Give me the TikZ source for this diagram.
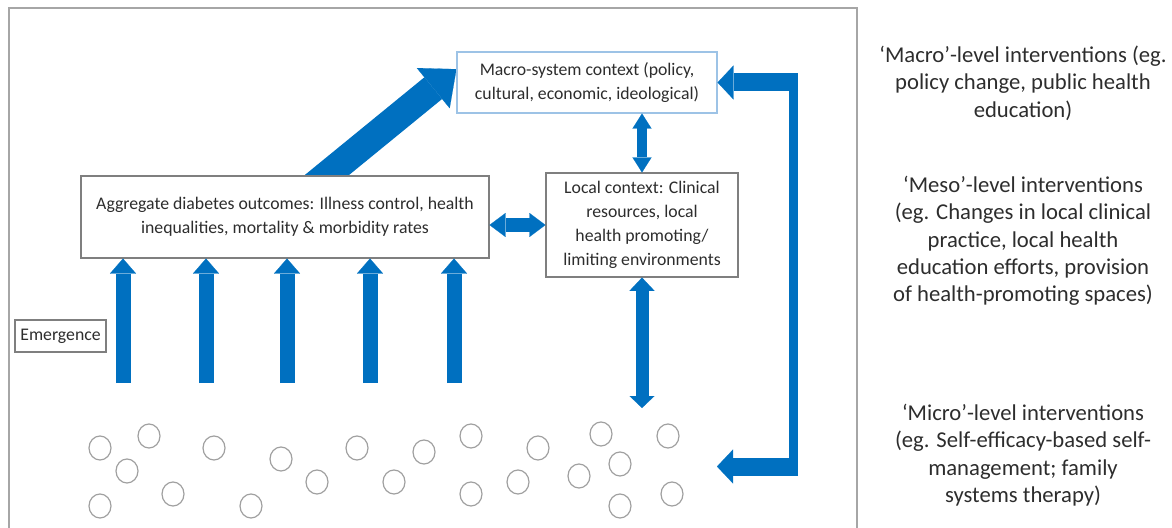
\documentclass[tikz,border=0pt]{standalone}
\usepackage{fontspec}
\setmainfont{Carlito}
\usetikzlibrary{positioning,arrows.meta,backgrounds}
\definecolor{arrowblue}{RGB}{0,112,192}
\definecolor{framegray}{RGB}{166,166,166}
\definecolor{boxgray}{RGB}{127,127,127}
\definecolor{macroblue}{RGB}{157,195,230}
\definecolor{circlegray}{RGB}{160,160,160}
\definecolor{textgray}{RGB}{45,45,45}

\begin{document}
\begin{tikzpicture}[x=0.75pt, y=-0.75pt,
		box/.style={draw=boxgray, line width=0.8pt, fill=white, align=center, inner sep=0pt, text=textgray, font=\fontsize{13.3}{18}\selectfont},
		level/.style={align=center, text=textgray, font=\fontsize{17}{20.5}\selectfont},
		person/.style={draw=circlegray, line width=0.9pt},
		upflow/.style={draw=arrowblue, line width=11.25pt, -{Triangle[length=11.25pt, width=19.5pt, line width=0.1pt]}},
		sideflow/.style={draw=arrowblue, line width=10.5pt, {Triangle[length=12pt, width=18pt, line width=0.1pt]}-{Triangle[length=12pt, width=18pt, line width=0.1pt]}},
		linkflow/.style={draw=arrowblue, line width=7.5pt, {Triangle[length=11.25pt, width=14.25pt, line width=0.1pt]}-{Triangle[length=11.25pt, width=14.25pt, line width=0.1pt]}},
		groundflow/.style={draw=arrowblue, line width=9.75pt, {Triangle[length=10pt, width=18.75pt, line width=0.1pt]}-{Triangle[length=9pt, width=18.75pt, line width=0.1pt]}},
		bigflow/.style={draw=arrowblue, line width=21pt, -{Triangle[length=22.5pt, width=39pt, line width=0.1pt]}},
		armflow/.style={draw=arrowblue, line width=13.5pt, -{Triangle[length=12pt, width=25.5pt, line width=0.1pt]}}]
	\useasboundingbox (0,0) rectangle (1172,528);
	\draw[framegray, line width=1.1pt] (9,540) -- (9,8) -- (857,8) -- (857,540);

	\node (macro) [box, draw=macroblue, minimum width=195pt, minimum height=45.75pt] at (587,82.5) {Macro-system context (policy,\\cultural, economic, ideological)};
	\node (aggr) [box, minimum width=306pt, minimum height=61.5pt] at (285,217) {Aggregate diabetes outcomes: Illness control, health\\inequalities, mortality \& morbidity rates};
	\node (local) [box, minimum width=144pt, minimum height=78pt] at (642,225) {Local context: Clinical\\resources, local\\health promoting/\\limiting environments};
	\node (emerge) [box, minimum width=68.25pt, minimum height=24pt] at (60.5,336) {Emergence};

	\node (macrolvl) [level] at (1023,83) {‘Macro’-level interventions (eg.\\policy change, public health\\education)};
	\node (mesolvl) [level] at (1023,241) {‘Meso’-level interventions\\(eg. Changes in local clinical\\practice, local health\\education efforts, provision\\of health-promoting spaces)};
	\node (microlvl) [level] at (1023,455) {‘Micro’-level interventions\\(eg. Self-efficacy-based self-\\management; family\\systems therapy)};

	\foreach \cx/\cy in {100/448, 149/436, 127/471, 100/506, 173/494, 214/448, 281/459, 317/482, 251/506, 357/448, 394/482, 424/452, 471/436, 471/494, 518/482, 538/448, 579/476, 601/434, 620/464, 620/506, 668/436, 672/494}
		\draw[person] (\cx,\cy) ellipse [x radius=8.25pt, y radius=9pt];

	\foreach \ux [count=\i] in {123,206,287,370,454} {
		\coordinate (rise\i) at (\ux,383);
		\draw[upflow] (rise\i) -- (rise\i |- aggr.south);
	}
	\draw[sideflow] (aggr.east |- local.west) -- (local.west);
	\draw[linkflow] (macro.south -| local.north) -- (local.north);
	\coordinate (ground) at (643,408);
	\draw[groundflow] (local.south) -- (local.south |- ground);

	\begin{scope}[on background layer]
		\coordinate (riseroot) at (300,197);
		\draw[bigflow] (riseroot) -- ([yshift=10pt]macro.west);
	\end{scope}

	\coordinate (rtop) at (793.5,82.5);
	\coordinate (rbot) at (793.5,466.5);
	\coordinate (microin) at (717,466.5);
	\draw[arrowblue, line width=6.75pt] ([yshift=6.75pt]rtop) -- ([yshift=-6.75pt]rbot);
	\draw[armflow] ([xshift=3.4pt]rtop) -- (macro.east);
	\draw[armflow] ([xshift=3.4pt]rbot) -- (microin);
\end{tikzpicture}
\end{document}
